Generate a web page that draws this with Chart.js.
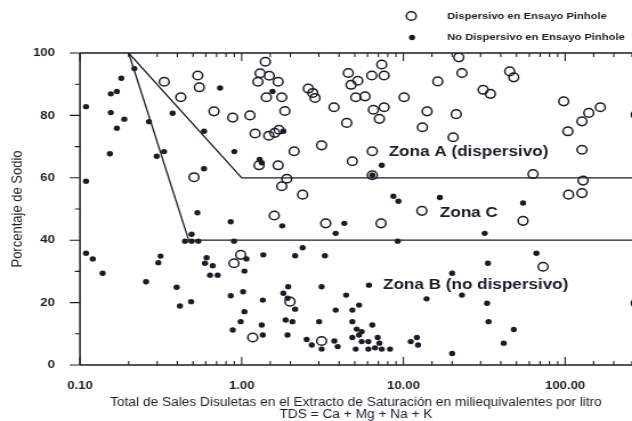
<!DOCTYPE html>
<html>
<head>
<meta charset="utf-8">
<script src="https://cdn.jsdelivr.net/npm/chart.js@4.4.1/dist/chart.umd.min.js"></script>
<style>
  html, body { margin: 0; padding: 0; background: #fff; }
  #wrap { width: 632px; height: 421px; }
</style>
</head>
<body>
<!-- the source figure is a little wider than tall, so the bitmap is stretched horizontally -->
<div id="wrap"><canvas id="chart" width="554" height="421" style="width:632px;height:421px"></canvas></div>
<script>
// Dispersivo en ensayo pinhole (open circles): TDS (meq/l) and % sodio
const dispersivoTDS = [
  0.332, 0.535, 0.547, 0.42, 0.674, 0.88, 1.125, 1.21, 1.28, 0.507,
  1.40, 1.30, 1.48, 1.26, 1.68, 1.42, 1.77, 1.85, 1.47, 1.60, 1.70, 1.68,
  2.11, 2.58, 2.75, 2.84, 3.72, 4.46, 4.56, 4.74, 5.22, 5.07, 5.79, 6.37,
  7.34, 7.59, 6.52, 7.59, 7.10, 10.1, 14.0, 13.1, 16.3, 3.12, 6.42, 4.83,
  6.42, 1.90, 1.77, 2.38,
  22.0, 23.0, 31.1, 34.5, 45.4, 48.1, 21.2, 20.3, 98, 165, 140, 127, 104,
  127, 63.3, 129, 127, 105, 275,
  0.986, 0.896, 1.17, 1.59, 3.31, 7.27, 13.0, 1.99, 3.12, 54.9, 73.0, 275
];
const dispersivoNa = [
  90.8, 92.8, 89.0, 85.8, 81.3, 79.3, 80.0, 74.2, 64.0, 60.2,
  97.2, 93.5, 92.7, 90.8, 90.8, 85.8, 85.8, 81.4, 73.5, 74.4, 75.4, 64.0,
  68.5, 88.6, 87.2, 85.6, 82.6, 77.6, 93.6, 89.8, 91.1, 85.8, 86.1, 92.8,
  96.3, 92.8, 81.8, 82.6, 78.9, 85.8, 81.3, 76.2, 90.9, 70.4, 68.5, 65.3,
  60.8, 59.7, 57.3, 54.6,
  98.6, 93.6, 88.2, 86.9, 94.1, 92.2, 80.4, 73.0, 84.5, 82.6, 80.8, 78.1, 74.9,
  69.0, 61.2, 59.1, 55.1, 54.6, 80.2,
  35.3, 32.6, 8.8, 47.9, 45.4, 45.4, 49.4, 20.3, 7.7, 46.2, 31.5, 19.8
];

// No dispersivo en ensayo pinhole (filled dots)
const noDispersivoTDS = [
  0.217, 0.18, 0.169, 0.155, 0.109, 0.155, 0.188, 0.169, 0.267, 0.374,
  0.735, 0.585, 0.153, 0.298, 0.331, 0.90, 0.109, 0.585, 1.29, 1.33,
  1.55, 1.81, 7.34, 6.42, 8.67, 9.31, 16.8, 54.9,
  0.532, 0.855, 0.49, 0.446, 0.49, 0.539, 0.896, 0.109, 0.120, 0.138,
  0.315, 0.305, 0.256, 0.396, 0.415, 0.486, 0.607, 0.593, 0.662, 0.637,
  0.71, 0.855, 1.02, 1.07, 1.04, 1.04, 0.986, 0.88, 1.36, 1.35, 1.33, 1.35,
  1.78, 4.31, 3.81, 9.22, 2.14, 2.38, 3.27, 1.94, 1.81, 1.92, 2.14, 3.12,
  6.12, 4.42, 5.32, 4.83, 3.81, 1.87, 2.06, 3.01, 4.83, 1.92, 5.14, 5.52,
  5.32, 6.42, 4.83, 5.52, 6.07, 6.93, 7.1, 7.34, 5.07, 6.07, 6.67, 8.26,
  2.52, 2.71, 3.12, 3.74, 3.92, 11.1, 12.1, 12.3, 13.9, 20.0,
  31.8, 66.4, 33.3, 20.0, 23.0, 32.9, 33.6, 48.1, 41.7
];
const noDispersivoNa = [
  95.0, 91.9, 87.7, 86.9, 82.8, 80.9, 78.8, 75.9, 78.0, 80.7,
  88.8, 74.9, 67.7, 66.9, 68.4, 68.4, 58.9, 62.9, 65.9, 64.8,
  87.7, 74.9, 64.0, 60.8, 54.1, 52.5, 53.7, 51.9,
  48.8, 45.9, 41.9, 39.7, 39.7, 39.7, 39.7, 35.8, 34.0, 29.4,
  34.9, 32.8, 26.7, 24.9, 18.9, 20.3, 34.4, 32.6, 31.8, 28.8,
  28.8, 22.2, 23.5, 34.0, 30.1, 17.1, 13.9, 11.2, 35.3, 20.8, 12.8, 9.6,
  44.6, 45.4, 42.2, 39.7, 35.0, 37.6, 35.0, 25.1, 23.0, 21.4, 17.9, 25.1,
  25.6, 22.4, 19.2, 17.6, 17.6, 14.4, 13.9, 13.9, 13.9, 9.6, 11.5, 10.7,
  9.6, 12.8, 8.8, 7.5, 7.5, 8.8, 7.0, 5.1, 5.1, 5.1, 5.5, 5.1,
  8.2, 6.4, 5.1, 7.7, 5.9, 7.5, 8.8, 6.4, 21.2, 3.7,
  42.2, 35.8, 32.6, 29.4, 22.4, 19.8, 13.9, 11.4, 7.0
];

// zone boundaries
const limiteA_TDS = [0.2, 1, 1000];
const limiteA_Na = [100, 60, 60];
const limiteB_TDS = [0.2, 0.47, 1000];
const limiteB_Na = [100, 40, 40];

const xMin = 0.1, xMax = 259;

const pts = (xs, ys) => xs.map((v, i) => ({x: v, y: ys[i]}));
const isDecade = v => Math.abs(Math.log10(v) - Math.round(Math.log10(v))) < 1e-6;

const ink = '#1c1c26';
const fontFam = '"Liberation Sans", Arial, Helvetica, sans-serif';

// frame, inward log ticks, legend and zone names
const decorations = {
  id: 'decorations',
  afterDraw(chart) {
    const {ctx, chartArea: a, scales: {x, y}} = chart;
    ctx.save();
    ctx.strokeStyle = ink;
    ctx.lineWidth = 1.5;
    ctx.beginPath();
    ctx.moveTo(a.left, a.top); ctx.lineTo(a.right, a.top);
    ctx.moveTo(a.left, a.bottom); ctx.lineTo(a.right, a.bottom);
    ctx.moveTo(a.left, a.top); ctx.lineTo(a.left, a.bottom);
    ctx.stroke();

    ctx.lineWidth = 1.1;
    ctx.beginPath();
    x.ticks.forEach(t => {
      const px = x.getPixelForValue(t.value);
      const len = isDecade(t.value) ? 8 : 4;
      ctx.moveTo(px, a.bottom); ctx.lineTo(px, a.bottom - len);
      ctx.moveTo(px, a.top); ctx.lineTo(px, a.top + len);
    });
    for (let v = 0; v <= 100; v += 10) {
      const py = y.getPixelForValue(v);
      const len = v % 20 === 0 ? 9 : 4.5;
      ctx.moveTo(a.left - len, py); ctx.lineTo(a.left, py);
    }
    ctx.stroke();

    // legend
    ctx.fillStyle = ink;
    ctx.lineWidth = 1.5;
    ctx.beginPath();
    ctx.arc(360.5, 16, 4.3, 0, Math.PI * 2);
    ctx.stroke();
    ctx.beginPath();
    ctx.arc(361.2, 37.5, 2.7, 0, Math.PI * 2);
    ctx.fill();
    ctx.font = 'bold 9.8px ' + fontFam;
    ctx.textBaseline = 'middle';
    ctx.textAlign = 'left';
    ctx.fillText('Dispersivo en Ensayo Pinhole', 392, 16);
    ctx.fillText('No Dispersivo en Ensayo Pinhole', 392, 37.5);

    // zone names
    ctx.font = 'bold 15px ' + fontFam;
    ctx.fillText('Zona A (dispersivo)', x.getPixelForValue(8.1), y.getPixelForValue(68.3));
    ctx.fillText('Zona C', x.getPixelForValue(16.8), y.getPixelForValue(48.7));
    ctx.fillText('Zona B (no dispersivo)', x.getPixelForValue(7.48), y.getPixelForValue(25.6));
    ctx.restore();
  }
};

const config = {
  type: 'scatter',
  data: {
    datasets: [
      {
        label: 'Dispersivo en Ensayo Pinhole',
        data: pts(dispersivoTDS, dispersivoNa),
        pointRadius: 4.3,
        pointBorderWidth: 1.5,
        borderColor: ink,
        backgroundColor: 'rgba(0,0,0,0)'
      },
      {
        label: 'No Dispersivo en Ensayo Pinhole',
        data: pts(noDispersivoTDS, noDispersivoNa),
        pointRadius: 2.7,
        pointBorderWidth: 0,
        borderColor: ink,
        backgroundColor: ink
      },
      {
        label: 'limite A',
        data: pts(limiteA_TDS, limiteA_Na),
        showLine: true,
        pointRadius: 0,
        borderWidth: 1.3,
        borderColor: ink
      },
      {
        label: 'limite B',
        data: pts(limiteB_TDS, limiteB_Na),
        showLine: true,
        pointRadius: 0,
        borderWidth: 1.3,
        borderColor: ink
      }
    ]
  },
  options: {
    responsive: false,
    animation: false,
    events: [],
    layout: { autoPadding: false, padding: { top: 53, right: 0, left: 0, bottom: 0 } },
    plugins: {
      legend: { display: false },
      tooltip: { enabled: false }
    },
    scales: {
      x: {
        type: 'logarithmic',
        min: xMin,
        max: xMax,
        afterFit: s => { s.height = 56; s.paddingLeft = 0; s.paddingRight = 0; },
        grid: { display: false, drawTicks: false },
        border: { display: false },
        ticks: {
          autoSkip: false,
          maxRotation: 0,
          padding: 14,
          color: ink,
          font: { family: fontFam, size: 11.5, weight: 'bold' },
          callback: v => isDecade(v) ? Number(v).toFixed(2) : ''
        },
        title: {
          display: true,
          text: ['Total de Sales Disuletas en el Extracto de Saturación en miliequivalentes por litro',
                 'TDS = Ca + Mg + Na + K'],
          color: ink,
          padding: { top: 0, bottom: 0 },
          font: { family: fontFam, size: 12, lineHeight: 1.0 }
        }
      },
      y: {
        min: 0,
        max: 100,
        afterFit: s => { s.width = 70.1; s.paddingTop = 0; s.paddingBottom = 0; },
        grid: { display: false, drawTicks: false },
        border: { display: false },
        ticks: {
          stepSize: 20,
          padding: 22,
          color: ink,
          font: { family: fontFam, size: 11.5, weight: 'bold' }
        },
        title: {
          display: true,
          text: 'Porcentaje de Sodio',
          color: ink,
          padding: { top: 8, bottom: 0 },
          font: { family: fontFam, size: 13 }
        }
      }
    }
  },
  plugins: [decorations]
};

new Chart(document.getElementById('chart'), config);
</script>
</body>
</html>
